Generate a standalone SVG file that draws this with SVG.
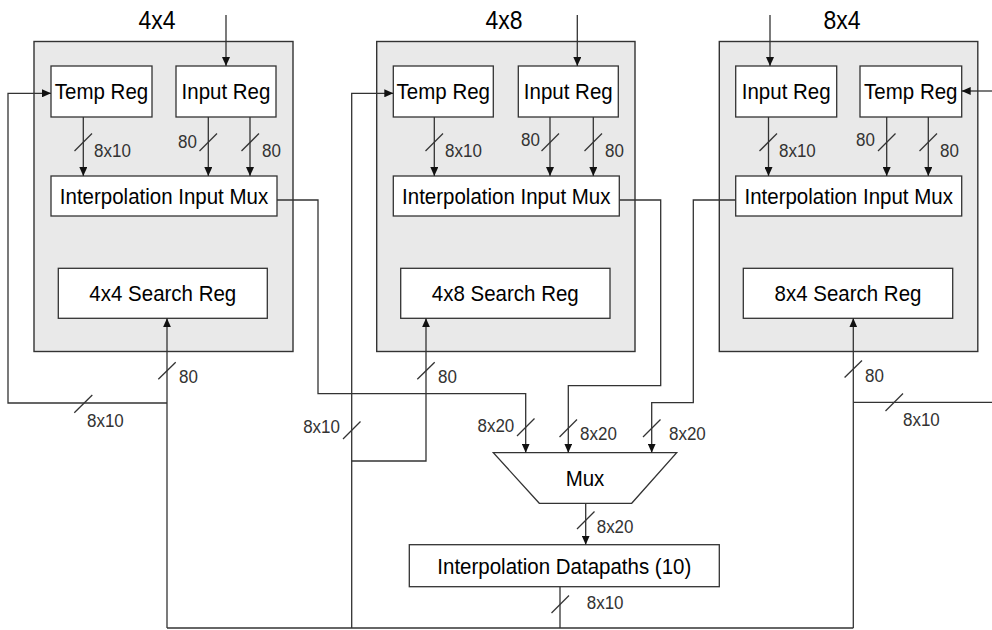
<svg xmlns="http://www.w3.org/2000/svg" width="992" height="630" viewBox="0 0 992 630">
<defs>
<style>
.mod{fill:#e9e9e9;stroke:#333;stroke-width:1.4}
.box{fill:#fff;stroke:#333;stroke-width:1.3}
.t{font-family:"Liberation Sans",Arial,sans-serif;font-size:20.5px;fill:#000;text-anchor:middle;transform-box:fill-box;transform-origin:50% 70%;transform:scaleY(1.12)}
.title{font-family:"Liberation Sans",Arial,sans-serif;font-size:23px;fill:#000;text-anchor:middle;transform-box:fill-box;transform-origin:50% 70%;transform:scaleY(1.1)}
.lbl{font-family:"Liberation Sans",Arial,sans-serif;font-size:17px;fill:#333;transform-box:fill-box;transform-origin:50% 70%;transform:scaleY(1.12)}
.end{text-anchor:end}
.w{fill:none;stroke:#333;stroke-width:1.3}
.a{fill:none;stroke:#333;stroke-width:1.3;marker-end:url(#ah)}
.s{stroke:#333;stroke-width:1.3}
</style>
<marker id="ah" markerUnits="userSpaceOnUse" markerWidth="10" markerHeight="8" refX="9" refY="4" orient="auto">
<path d="M0,0 L9,4 L0,8 z" fill="#111"/>
</marker>
</defs>
<rect width="992" height="630" fill="#fff"/>

<g id="module-4x4">
<rect class="mod" x="34" y="41.5" width="259" height="310"/>
<text class="title" x="157" y="29">4x4</text>
</g>
<g id="module-4x8">
<rect class="mod" x="376.7" y="41.5" width="258.3" height="310"/>
<text class="title" x="504" y="29">4x8</text>
</g>
<g id="module-8x4">
<rect class="mod" x="719.3" y="41.5" width="258.5" height="310"/>
<text class="title" x="842" y="29">8x4</text>
</g>

<g id="temp-reg-1"><rect class="box" x="51" y="66" width="101" height="51"/><text class="t" x="101.5" y="99">Temp Reg</text></g>
<g id="input-reg-1"><rect class="box" x="176" y="66" width="100" height="51"/><text class="t" x="226" y="99">Input Reg</text></g>
<g id="mux-in-1"><rect class="box" x="51" y="176" width="226" height="40"/><text class="t" x="164" y="204">Interpolation Input Mux</text></g>
<g id="search-reg-1"><rect class="box" x="58.3" y="268.3" width="209" height="50"/><text class="t" x="162.8" y="301">4x4 Search Reg</text></g>

<g id="temp-reg-2"><rect class="box" x="393.3" y="66" width="100" height="51"/><text class="t" x="443.3" y="99">Temp Reg</text></g>
<g id="input-reg-2"><rect class="box" x="518.3" y="66" width="100" height="51"/><text class="t" x="568.3" y="99">Input Reg</text></g>
<g id="mux-in-2"><rect class="box" x="393.3" y="176" width="226" height="40"/><text class="t" x="506.3" y="204">Interpolation Input Mux</text></g>
<g id="search-reg-2"><rect class="box" x="400.7" y="268.3" width="209.3" height="50"/><text class="t" x="505.3" y="301">4x8 Search Reg</text></g>

<g id="input-reg-3"><rect class="box" x="735.7" y="66" width="101" height="51"/><text class="t" x="786.2" y="99">Input Reg</text></g>
<g id="temp-reg-3"><rect class="box" x="860" y="66" width="101.7" height="51"/><text class="t" x="910.8" y="99">Temp Reg</text></g>
<g id="mux-in-3"><rect class="box" x="735.7" y="176" width="226" height="40"/><text class="t" x="848.7" y="204">Interpolation Input Mux</text></g>
<g id="search-reg-3"><rect class="box" x="743.3" y="268.3" width="209.4" height="50"/><text class="t" x="848" y="301">8x4 Search Reg</text></g>

<g id="mux"><path class="box" d="M493.3,452.7 L676.7,452.7 L631.7,503.3 L539.3,503.3 Z"/><text class="t" x="585" y="486">Mux</text></g>
<g id="datapaths"><rect class="box" x="409.3" y="544.7" width="310" height="42"/><text class="t" x="564.3" y="574">Interpolation Datapaths (10)</text></g>

<g id="connectors">
<path class="a" d="M226,15 V66"/>
<path class="a" d="M83.3,117 V176"/>
<path class="a" d="M208.3,117 V176"/>
<path class="a" d="M250,117 V176"/>
<path class="a" d="M277,200 H318 V393.7 H525.7 V452.7"/>
<path class="a" d="M167,403 H8 V93.3 H51"/>
<path class="a" d="M167,628 V318.3"/>
<path class="a" d="M577.3,15 V66"/>
<path class="a" d="M434.3,117 V176"/>
<path class="a" d="M550,117 V176"/>
<path class="a" d="M593.3,117 V176"/>
<path class="a" d="M619.3,200 H660.7 V385.7 H568.3 V452.7"/>
<path class="a" d="M351.7,628 V93.3 H393.3"/>
<path class="a" d="M351.7,461 H426 V318.3"/>
<path class="a" d="M770,15 V66"/>
<path class="a" d="M768.5,117 V176"/>
<path class="a" d="M886.7,117 V176"/>
<path class="a" d="M928.3,117 V176"/>
<path class="a" d="M735.7,200 H693.3 V402.7 H651.7 V452.7"/>
<path class="a" d="M992,91 H961.7"/>
<path class="w" d="M853.3,402.3 H992"/>
<path class="a" d="M853.3,628 V318.3"/>
<path class="a" d="M585.7,503.3 V544.7"/>
<path class="w" d="M560,586.7 V628"/>
<path class="w" d="M167,628 H853.3"/>

<g class="s">
<line x1="74.5" y1="151" x2="92" y2="133.5"/>
<line x1="199.5" y1="151" x2="217" y2="133.5"/>
<line x1="241.5" y1="151" x2="259" y2="133.5"/>
<line x1="425.5" y1="151" x2="443" y2="133.5"/>
<line x1="541.5" y1="151" x2="559" y2="133.5"/>
<line x1="584.5" y1="151" x2="602" y2="133.5"/>
<line x1="759.5" y1="151" x2="777" y2="133.5"/>
<line x1="878" y1="151" x2="895.5" y2="133.5"/>
<line x1="919.5" y1="151" x2="937" y2="133.5"/>
<line x1="74.3" y1="412.7" x2="92.3" y2="395"/>
<line x1="158.3" y1="379.3" x2="175.7" y2="362.3"/>
<line x1="343" y1="439" x2="360.5" y2="421.5"/>
<line x1="417.3" y1="379.3" x2="434.7" y2="362.3"/>
<line x1="844.6" y1="377.5" x2="862" y2="360.5"/>
<line x1="885.5" y1="411" x2="903" y2="393.5"/>
<line x1="517" y1="436" x2="534.5" y2="418.5"/>
<line x1="559.5" y1="437" x2="577" y2="419.5"/>
<line x1="643" y1="437" x2="660.5" y2="419.5"/>
<line x1="577" y1="529" x2="594.5" y2="511.5"/>
<line x1="551.5" y1="613" x2="569" y2="595.5"/>
</g>

<g>
<text class="lbl" x="94" y="157">8x10</text>
<text class="lbl end" x="197" y="148">80</text>
<text class="lbl" x="262" y="157">80</text>
<text class="lbl" x="445" y="157">8x10</text>
<text class="lbl end" x="540" y="146">80</text>
<text class="lbl" x="605" y="157">80</text>
<text class="lbl" x="779" y="157">8x10</text>
<text class="lbl end" x="875" y="146">80</text>
<text class="lbl" x="940" y="157">80</text>
<text class="lbl" x="87" y="426.5">8x10</text>
<text class="lbl" x="179" y="383">80</text>
<text class="lbl end" x="340" y="433">8x10</text>
<text class="lbl" x="438" y="383">80</text>
<text class="lbl" x="865" y="382">80</text>
<text class="lbl" x="903" y="426">8x10</text>
<text class="lbl end" x="514.3" y="432">8x20</text>
<text class="lbl" x="580" y="440">8x20</text>
<text class="lbl" x="669" y="440">8x20</text>
<text class="lbl" x="596.7" y="533">8x20</text>
<text class="lbl" x="586.7" y="609">8x10</text>
</g>
</g>
</svg>
